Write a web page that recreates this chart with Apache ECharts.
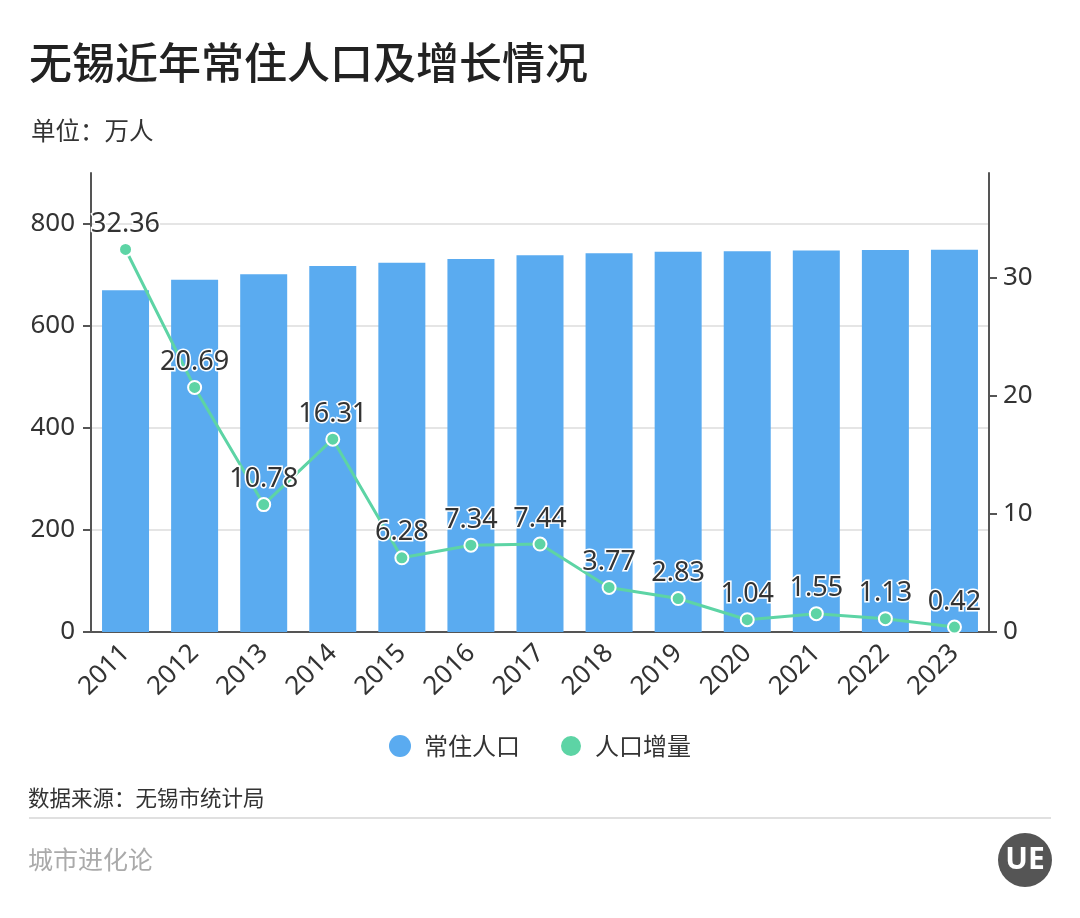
<!DOCTYPE html>
<html>
<head>
<meta charset="utf-8">
<script src="https://cdn.jsdelivr.net/npm/echarts@6/dist/echarts.min.js"></script>
<style>
html,body{margin:0;padding:0;background:#fff;}
#c{width:1080px;height:918px;}
</style>
</head>
<body>
<div id="c"></div>
<script>
var years = ['2011','2012','2013','2014','2015','2016','2017','2018','2019','2020','2021','2022','2023'];
var population = [669.95, 690.64, 701.42, 717.73, 724.01, 731.35, 738.79, 742.56, 745.39, 746.43, 747.98, 749.11, 749.53];
var increase = [32.36, 20.69, 10.78, 16.31, 6.28, 7.34, 7.44, 3.77, 2.83, 1.04, 1.55, 1.13, 0.42];
var leftTicks = [0, 200, 400, 600, 800];
var rightTicks = [0, 10, 20, 30];

var FONT = "'Noto Sans', 'Noto Sans CJK SC', sans-serif";
var CJK = "'Noto Sans CJK SC', sans-serif";
var chart = echarts.init(document.getElementById('c'));
chart.setOption({
  backgroundColor: '#fff',
  textStyle: {fontFamily: FONT},
  title: [
    {text: '无锡近年常住人口及增长情况', left: 24, top: 36,
     textStyle: {fontSize: 43, fontWeight: 500, color: '#222', fontFamily: CJK}},
    {text: '单位：万人', left: 26, top: 113,
     textStyle: {fontSize: 24.5, fontWeight: 'normal', color: '#333', fontFamily: CJK}}
  ],
  legend: {
    left: 'center', top: 729,
    itemWidth: 22, itemHeight: 22, itemGap: 39,
    icon: 'circle',
    textStyle: {fontSize: 24, color: '#333', padding: [0, 0, 0, 8], fontFamily: CJK},
    data: ['常住人口', '人口增量']
  },
  grid: {left: 91, right: 91, top: 173, bottom: 286, containLabel: false},
  xAxis: {
    type: 'category', data: years,
    axisLine: {lineStyle: {color: '#555', width: 2}},
    axisTick: {alignWithLabel: true, length: 8, lineStyle: {color: '#555', width: 2}},
    axisLabel: {rotate: 45, fontSize: 26, color: '#333', margin: 17, fontFamily: FONT}
  },
  yAxis: [
    {
      type: 'value', min: 0, max: 900, interval: 200,
      axisLine: {show: true, lineStyle: {color: '#555', width: 2}},
      axisTick: {show: true, length: 8, customValues: leftTicks, lineStyle: {color: '#555', width: 2}},
      axisLabel: {fontSize: 26, color: '#333', margin: 16, customValues: leftTicks, fontFamily: FONT},
      splitLine: {show: true, lineStyle: {color: ['#dcdcdc','#dcdcdc','#dcdcdc','#dcdcdc','#dcdcdc','rgba(0,0,0,0)'], width: 1.5}}
    },
    {
      type: 'value', min: 0, max: 38.83, interval: 10,
      axisLine: {show: true, lineStyle: {color: '#555', width: 2}},
      axisTick: {show: true, length: 8, customValues: rightTicks, lineStyle: {color: '#555', width: 2}},
      axisLabel: {fontSize: 26, color: '#333', margin: 14, customValues: rightTicks, fontFamily: FONT},
      splitLine: {show: false}
    }
  ],
  series: [
    {
      name: '常住人口', type: 'bar', data: population, yAxisIndex: 0,
      barWidth: 47,
      itemStyle: {color: '#5aabf0'}
    },
    {
      name: '人口增量', type: 'line', data: increase, yAxisIndex: 1,
      symbol: 'circle', symbolSize: 13,
      lineStyle: {color: '#5dd4a5', width: 3},
      itemStyle: {color: '#5dd4a5', borderColor: '#fff', borderWidth: 2},
      label: {show: true, position: 'top', distance: 4, fontSize: 27, color: '#333',
              textBorderColor: '#fff', textBorderWidth: 3, fontFamily: FONT}
    }
  ],
  graphic: [
    {type: 'text', left: 28, top: 787,
     style: {text: '数据来源：无锡市统计局', fontSize: 21.5, fill: '#333', fontFamily: CJK}},
    {type: 'rect', left: 29, top: 817, shape: {width: 1022, height: 2}, style: {fill: '#e0e0e0'}},
    {type: 'text', left: 28, top: 847,
     style: {text: '城市进化论', fontSize: 25, fill: '#aaa', fontFamily: CJK}},
    {type: 'circle', shape: {cx: 1025, cy: 860, r: 27}, style: {fill: '#555'}},
    {type: 'text', x: 1025, y: 860,
     style: {text: 'UE', fontSize: 30, fontWeight: 'bold', fill: '#fff', align: 'center', verticalAlign: 'middle', fontFamily: FONT}}
  ]
});
</script>
</body>
</html>
